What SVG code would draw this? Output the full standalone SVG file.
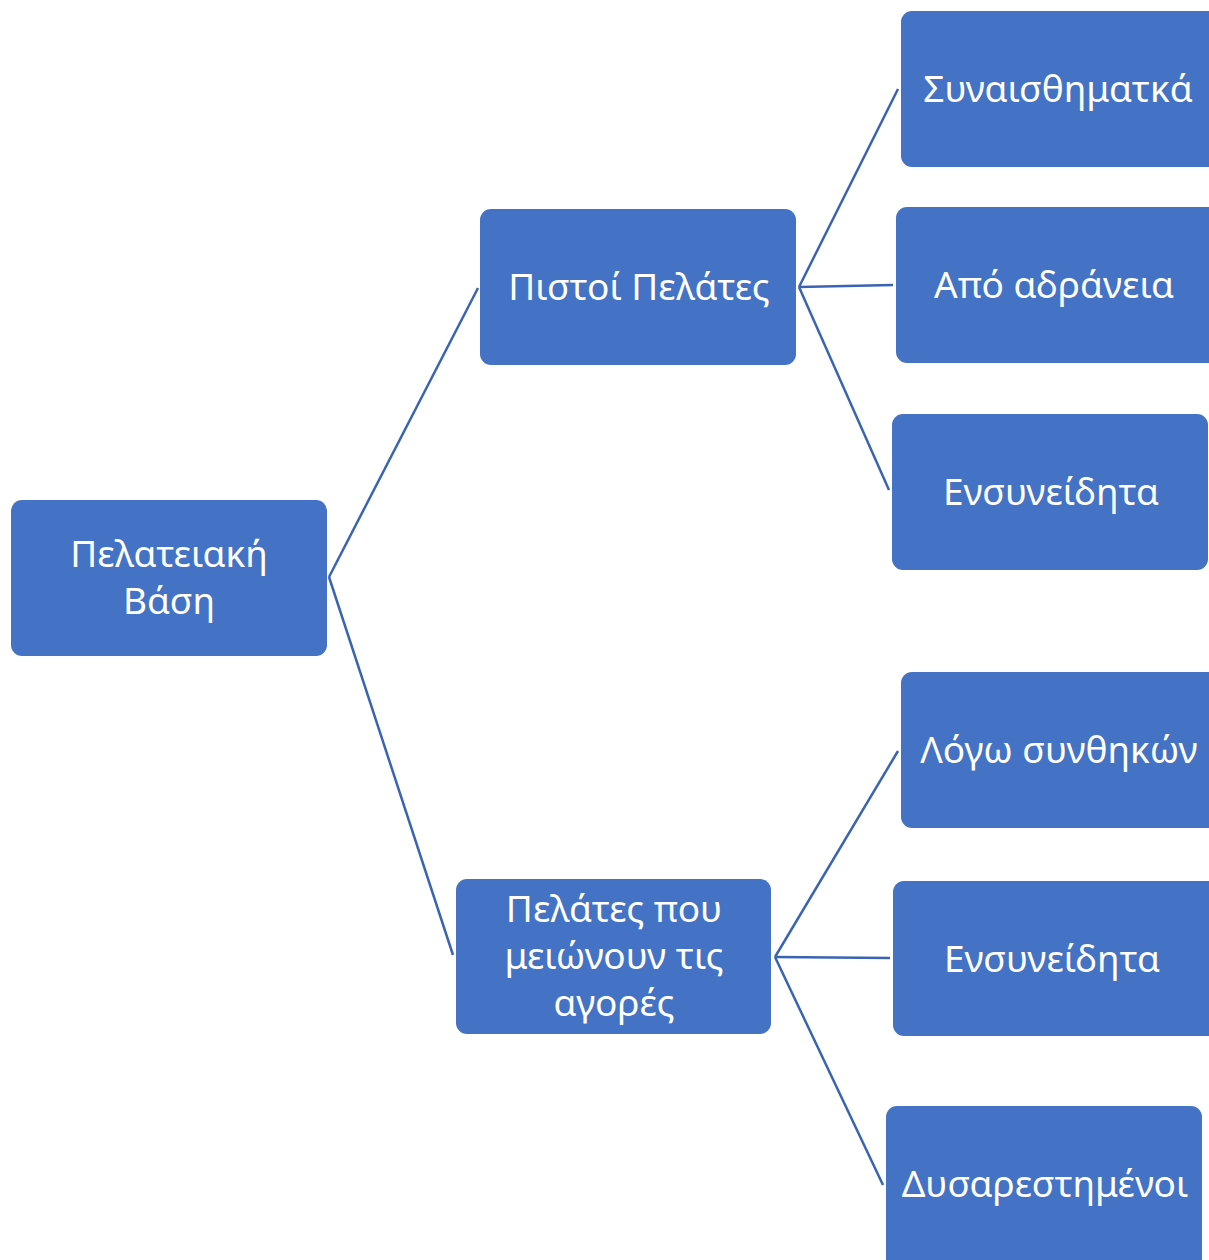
<svg xmlns="http://www.w3.org/2000/svg" width="1209" height="1260" viewBox="0 0 1209 1260">
<style>
.box{fill:#4472c4;}
.lbl{fill:#ffffff;font-family:"Noto Sans","Liberation Sans",sans-serif;font-size:37px;text-anchor:middle;}
.con{stroke:#3a64b2;stroke-width:2.5;fill:none;}
</style>
<rect width="1209" height="1260" fill="#ffffff"/>
<g id="connectors">
<line class="con" x1="329" y1="577" x2="478" y2="288"/>
<line class="con" x1="329" y1="577" x2="453" y2="955"/>
<line class="con" x1="799" y1="287" x2="898" y2="89"/>
<line class="con" x1="799" y1="287" x2="893" y2="285"/>
<line class="con" x1="799" y1="287" x2="889" y2="490"/>
<line class="con" x1="775" y1="957" x2="898" y2="751"/>
<line class="con" x1="775" y1="957" x2="890" y2="958"/>
<line class="con" x1="775" y1="957" x2="883" y2="1185"/>
</g>
<g id="root"><rect class="box" x="11" y="500" width="316" height="156" rx="11"/>
<text class="lbl" x="169" y="567">Πελατειακή</text><text class="lbl" x="169" y="614">Βάση</text></g>
<g id="loyal"><rect class="box" x="480" y="209" width="316" height="156" rx="11"/>
<text class="lbl" x="639" y="300">Πιστοί Πελάτες</text></g>
<g id="reducing"><rect class="box" x="456" y="879" width="315" height="155" rx="11"/>
<text class="lbl" x="614" y="922">Πελάτες που</text><text class="lbl" x="614" y="969">μειώνουν τις</text><text class="lbl" x="614" y="1016">αγορές</text></g>
<g id="emotional"><rect class="box" x="901" y="11" width="320" height="156" rx="11"/>
<text class="lbl" x="1058" y="102">Συναισθηματκά</text></g>
<g id="inertia"><rect class="box" x="896" y="207" width="325" height="156" rx="11"/>
<text class="lbl" x="1054" y="298">Από αδράνεια</text></g>
<g id="conscious1"><rect class="box" x="892" y="414" width="316" height="156" rx="11"/>
<text class="lbl" x="1051" y="505">Ενσυνείδητα</text></g>
<g id="circumstances"><rect class="box" x="901" y="672" width="320" height="156" rx="11"/>
<text class="lbl" x="1059" y="763">Λόγω συνθηκών</text></g>
<g id="conscious2"><rect class="box" x="893" y="881" width="328" height="155" rx="11"/>
<text class="lbl" x="1052" y="972">Ενσυνείδητα</text></g>
<g id="dissatisfied"><rect class="box" x="886" y="1106" width="316" height="165" rx="11"/>
<text class="lbl" x="1045" y="1197">Δυσαρεστημένοι</text></g>
</svg>
